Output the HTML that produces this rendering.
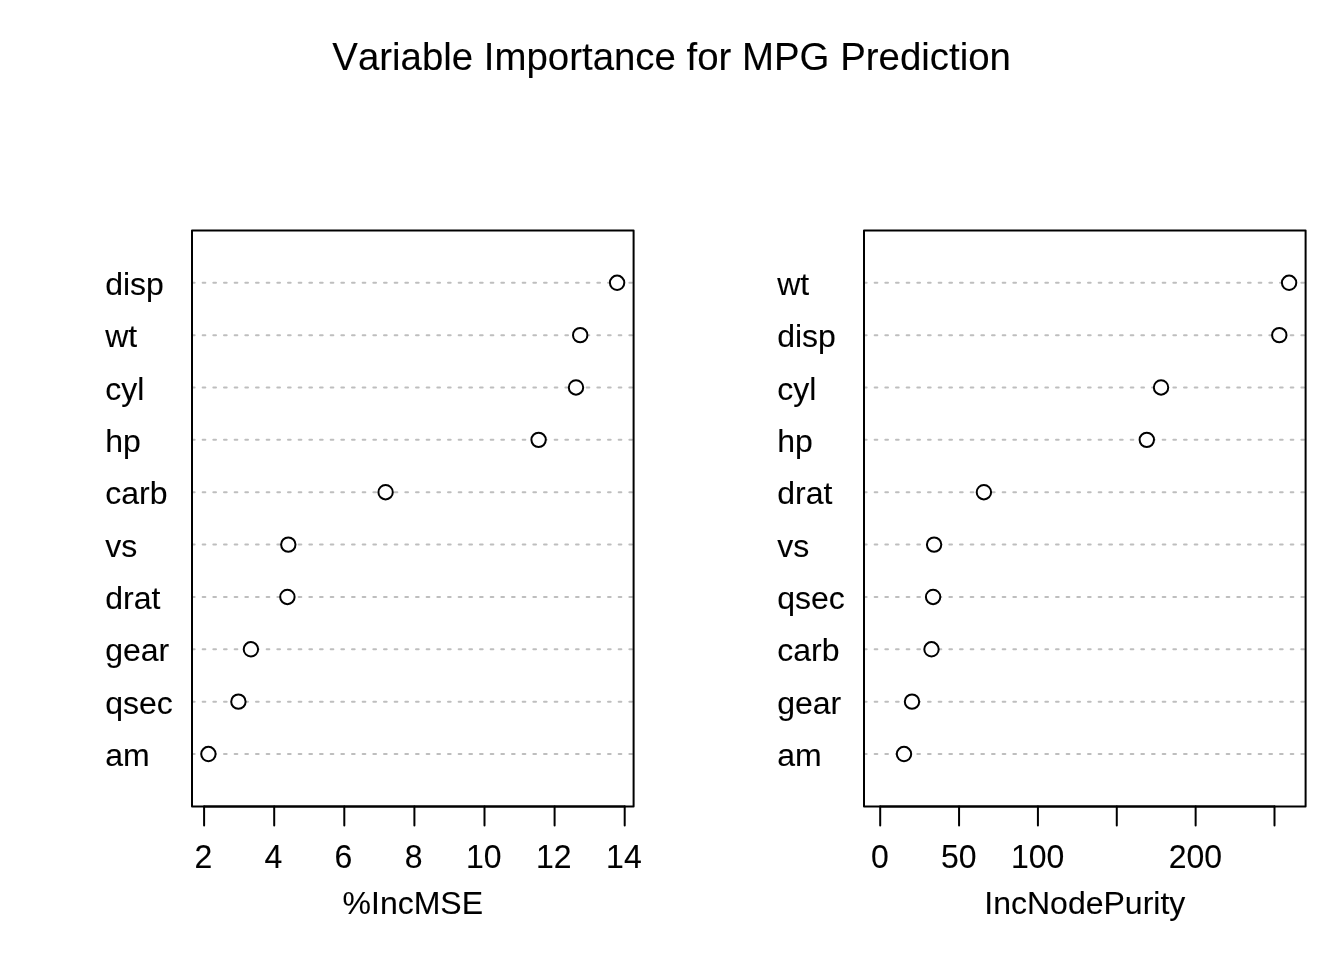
<!DOCTYPE html>
<html lang="en">
<head>
<meta charset="utf-8">
<title>Variable Importance for MPG Prediction</title>
<style>
html,body{margin:0;padding:0;background:#fff;}
body{width:1344px;height:960px;overflow:hidden;}
svg{display:block;}
text{font-family:"Liberation Sans",Arial,Helvetica,sans-serif;fill:#000;font-kerning:none;stroke:#000;stroke-width:0.1px;}
.t{font-size:32px;}
.m{text-anchor:middle;}
.d{font-size:32px;text-anchor:middle;}
.title{font-size:38.4px;text-anchor:middle;}
.g{stroke:#bebebe;stroke-width:2;stroke-dasharray:2.667 8;stroke-linecap:round;fill:none;}
.p{stroke:#000;stroke-width:2;fill:#fff;}
.k{stroke:#000;stroke-width:2;stroke-linecap:round;fill:none;}
.b{stroke:#000;stroke-width:2;stroke-linejoin:round;fill:none;}
</style>
</head>
<body>
<svg width="1344" height="960" viewBox="0 0 1344 960">
<rect x="0" y="0" width="1344" height="960" fill="#ffffff"/>
<text class="title" x="671.6" y="70.1">Variable Importance for MPG Prediction</text>
<g id="left">
<line class="g" x1="192.00" y1="282.76" x2="633.60" y2="282.76"/>
<line class="g" x1="192.00" y1="335.13" x2="633.60" y2="335.13"/>
<line class="g" x1="192.00" y1="387.49" x2="633.60" y2="387.49"/>
<line class="g" x1="192.00" y1="439.85" x2="633.60" y2="439.85"/>
<line class="g" x1="192.00" y1="492.22" x2="633.60" y2="492.22"/>
<line class="g" x1="192.00" y1="544.58" x2="633.60" y2="544.58"/>
<line class="g" x1="192.00" y1="596.95" x2="633.60" y2="596.95"/>
<line class="g" x1="192.00" y1="649.31" x2="633.60" y2="649.31"/>
<line class="g" x1="192.00" y1="701.67" x2="633.60" y2="701.67"/>
<line class="g" x1="192.00" y1="754.04" x2="633.60" y2="754.04"/>
<circle class="p" cx="617.10" cy="282.76" r="7.2"/>
<circle class="p" cx="580.20" cy="335.13" r="7.2"/>
<circle class="p" cx="576.00" cy="387.49" r="7.2"/>
<circle class="p" cx="538.60" cy="439.85" r="7.2"/>
<circle class="p" cx="385.60" cy="492.22" r="7.2"/>
<circle class="p" cx="288.30" cy="544.58" r="7.2"/>
<circle class="p" cx="287.40" cy="596.95" r="7.2"/>
<circle class="p" cx="250.90" cy="649.31" r="7.2"/>
<circle class="p" cx="238.40" cy="701.67" r="7.2"/>
<circle class="p" cx="208.40" cy="754.04" r="7.2"/>
<text class="t" x="105.20" y="294.86">disp</text>
<text class="t" x="105.20" y="347.23">wt</text>
<text class="t" x="105.20" y="399.59">cyl</text>
<text class="t" x="105.20" y="451.95">hp</text>
<text class="t" x="105.20" y="504.32">carb</text>
<text class="t" x="105.20" y="556.68">vs</text>
<text class="t" x="105.20" y="609.05">drat</text>
<text class="t" x="105.20" y="661.41">gear</text>
<text class="t" x="105.20" y="713.77">qsec</text>
<text class="t" x="105.20" y="766.14">am</text>
<line class="k" x1="204.10" y1="806.40" x2="624.70" y2="806.40"/>
<line class="k" x1="204.10" y1="806.40" x2="204.10" y2="825.60"/>
<text class="d" transform="translate(203.30 867.84) scale(1 1.045)">2</text>
<line class="k" x1="274.20" y1="806.40" x2="274.20" y2="825.60"/>
<text class="d" transform="translate(273.40 867.84) scale(1 1.045)">4</text>
<line class="k" x1="344.30" y1="806.40" x2="344.30" y2="825.60"/>
<text class="d" transform="translate(343.50 867.84) scale(1 1.045)">6</text>
<line class="k" x1="414.40" y1="806.40" x2="414.40" y2="825.60"/>
<text class="d" transform="translate(413.60 867.84) scale(1 1.045)">8</text>
<line class="k" x1="484.50" y1="806.40" x2="484.50" y2="825.60"/>
<text class="d" transform="translate(483.70 867.84) scale(1 1.045)">10</text>
<line class="k" x1="554.60" y1="806.40" x2="554.60" y2="825.60"/>
<text class="d" transform="translate(553.80 867.84) scale(1 1.045)">12</text>
<line class="k" x1="624.70" y1="806.40" x2="624.70" y2="825.60"/>
<text class="d" transform="translate(623.90 867.84) scale(1 1.045)">14</text>
<rect class="b" x="192.00" y="230.40" width="441.60" height="576.00"/>
<text class="t m" x="412.80" y="913.92">%IncMSE</text>
</g>
<g id="right">
<line class="g" x1="864.00" y1="282.76" x2="1305.60" y2="282.76"/>
<line class="g" x1="864.00" y1="335.13" x2="1305.60" y2="335.13"/>
<line class="g" x1="864.00" y1="387.49" x2="1305.60" y2="387.49"/>
<line class="g" x1="864.00" y1="439.85" x2="1305.60" y2="439.85"/>
<line class="g" x1="864.00" y1="492.22" x2="1305.60" y2="492.22"/>
<line class="g" x1="864.00" y1="544.58" x2="1305.60" y2="544.58"/>
<line class="g" x1="864.00" y1="596.95" x2="1305.60" y2="596.95"/>
<line class="g" x1="864.00" y1="649.31" x2="1305.60" y2="649.31"/>
<line class="g" x1="864.00" y1="701.67" x2="1305.60" y2="701.67"/>
<line class="g" x1="864.00" y1="754.04" x2="1305.60" y2="754.04"/>
<circle class="p" cx="1289.10" cy="282.76" r="7.2"/>
<circle class="p" cx="1279.30" cy="335.13" r="7.2"/>
<circle class="p" cx="1161.05" cy="387.49" r="7.2"/>
<circle class="p" cx="1146.80" cy="439.85" r="7.2"/>
<circle class="p" cx="983.90" cy="492.22" r="7.2"/>
<circle class="p" cx="934.10" cy="544.58" r="7.2"/>
<circle class="p" cx="933.10" cy="596.95" r="7.2"/>
<circle class="p" cx="931.50" cy="649.31" r="7.2"/>
<circle class="p" cx="912.00" cy="701.67" r="7.2"/>
<circle class="p" cx="904.00" cy="754.04" r="7.2"/>
<text class="t" x="777.20" y="294.86">wt</text>
<text class="t" x="777.20" y="347.23">disp</text>
<text class="t" x="777.20" y="399.59">cyl</text>
<text class="t" x="777.20" y="451.95">hp</text>
<text class="t" x="777.20" y="504.32">drat</text>
<text class="t" x="777.20" y="556.68">vs</text>
<text class="t" x="777.20" y="609.05">qsec</text>
<text class="t" x="777.20" y="661.41">carb</text>
<text class="t" x="777.20" y="713.77">gear</text>
<text class="t" x="777.20" y="766.14">am</text>
<line class="k" x1="880.20" y1="806.40" x2="1274.50" y2="806.40"/>
<line class="k" x1="880.20" y1="806.40" x2="880.20" y2="825.60"/>
<text class="d" transform="translate(879.90 867.84) scale(1 1.045)">0</text>
<line class="k" x1="959.06" y1="806.40" x2="959.06" y2="825.60"/>
<text class="d" transform="translate(958.76 867.84) scale(1 1.045)">50</text>
<line class="k" x1="1037.92" y1="806.40" x2="1037.92" y2="825.60"/>
<text class="d" transform="translate(1037.62 867.84) scale(1 1.045)">100</text>
<line class="k" x1="1116.78" y1="806.40" x2="1116.78" y2="825.60"/>
<line class="k" x1="1195.64" y1="806.40" x2="1195.64" y2="825.60"/>
<text class="d" transform="translate(1195.34 867.84) scale(1 1.045)">200</text>
<line class="k" x1="1274.50" y1="806.40" x2="1274.50" y2="825.60"/>
<rect class="b" x="864.00" y="230.40" width="441.60" height="576.00"/>
<text class="t m" x="1084.80" y="913.92">IncNodePurity</text>
</g>
</svg>
</body>
</html>
